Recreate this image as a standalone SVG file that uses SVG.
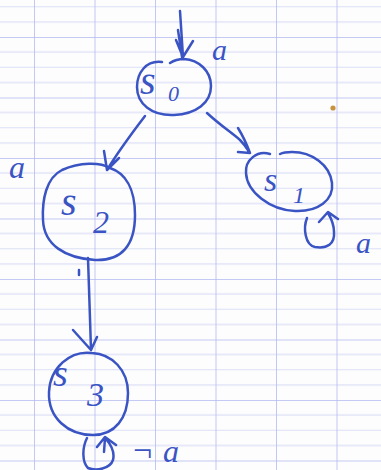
<svg xmlns="http://www.w3.org/2000/svg" width="381" height="470" viewBox="0 0 381 470">
  <defs>
    <!-- squared paper: majors every 60.5px, three minor rules between them -->
    <pattern id="paper" patternUnits="userSpaceOnUse" x="34" y="37" width="60.5" height="60.5">
      <line x1="0" y1="15.1" x2="60.5" y2="15.1" class="minor"/>
      <line x1="0" y1="30.25" x2="60.5" y2="30.25" class="minor"/>
      <line x1="0" y1="45.4" x2="60.5" y2="45.4" class="minor"/>
      <line x1="0" y1="0" x2="60.5" y2="0" class="major"/>
      <line x1="0" y1="0" x2="0" y2="60.5" class="major"/>
    </pattern>
    <style>
      .minor { stroke: #dcdff6; stroke-width: 1.2; }
      .major { stroke: #b0b8ef; stroke-width: 1.5; }
      .ink { fill: none; stroke: #3a54c4; stroke-width: 2.5; stroke-linecap: round; stroke-linejoin: round; }
      .txt { fill: #3a54c4; font-family: "Liberation Serif", "DejaVu Serif", serif; font-style: italic; }
    </style>
  </defs>

  <rect width="381" height="470" fill="#fdfdfe"/>
  <rect width="381" height="470" fill="url(#paper)"/>
  <circle cx="333" cy="108" r="2.6" fill="#c8933e"/>

  <g id="connectors">
    <!-- initial arrow into s0 -->
    <path class="ink" d="M180,11 C181,25 182,42 183,57 M178,30 L182,57 M176,40 L183,57 L193,41"/>
    <!-- s0 to s2 -->
    <path class="ink" d="M145,116 C132,133 118,152 107,170 M104,151 L107,170 L119,158"/>
    <!-- s0 to s1 -->
    <path class="ink" d="M207,113 C220,125 232,133 240,140 C245,145 248,150 250,153 M238,128 C243,136 247,145 250,153 M238,152 L250,153"/>
    <!-- s1 self loop -->
    <path class="ink" d="M307,218 C303,228 305,245 315,247 C327,249 335,244 334,232 C334,225 331,218 328,213 M319,222 L328,212 L338,219"/>
    <!-- s2 to s3 -->
    <path class="ink" d="M88,258 C89,285 90,320 91,350 M73,330 L91,350 L97,337"/>
    <path class="ink" d="M79,270 L79,275" stroke-width="1.8"/>
    <!-- s3 self loop -->
    <path class="ink" d="M87,438 C82,448 82,462 88,468 C96,471 110,469 113,460 C115,452 112,446 106,439 M97,447 L105,437 L116,445 M105,438 L104,452"/>
  </g>

  <g id="node-s0">
    <path class="ink" d="M162,62 C146,60 137,73 137,87 C137,104 152,116 174,115 C196,114 211,103 211,86 C211,71 199,60 184,59 C178,59 173,61 170,63"/>
    <text class="txt" x="140" y="94" font-size="40">s</text>
    <text class="txt" x="168" y="101" font-size="22">0</text>
  </g>

  <g id="node-s1">
    <path class="ink" d="M270,154 C257,150 245,160 246,173 C247,192 270,210 295,211 C318,212 334,200 332,183 C330,165 312,152 292,152 C286,152 282,153 280,154"/>
    <text class="txt" x="264" y="191" font-size="34">s</text>
    <text class="txt" x="293" y="203" font-size="24">1</text>
  </g>

  <g id="node-s2">
    <path class="ink" d="M110,168 C100,162 80,162 62,170 C46,178 42,200 43,220 C44,245 65,258 95,260 C122,261 135,245 135,215 C135,188 125,173 110,168 Z"/>
    <text class="txt" x="61" y="215" font-size="40">s</text>
    <text class="txt" x="93" y="233" font-size="32">2</text>
  </g>

  <g id="node-s3">
    <path class="ink" d="M92,353 C70,350 50,368 49,392 C48,418 68,435 93,435 C115,435 128,418 128,393 C128,370 112,354 92,353 Z"/>
    <text class="txt" x="53" y="386" font-size="38">s</text>
    <text class="txt" x="87" y="406" font-size="34">3</text>
  </g>

  <g id="labels">
    <text class="txt" x="212" y="60" font-size="30">a</text>
    <text class="txt" x="9" y="178" font-size="32">a</text>
    <text class="txt" x="356" y="253" font-size="30">a</text>
    <text class="txt" x="131" y="461" font-size="34">¬<tspan dx="9" dy="1" font-size="32">a</tspan></text>
  </g>
</svg>
